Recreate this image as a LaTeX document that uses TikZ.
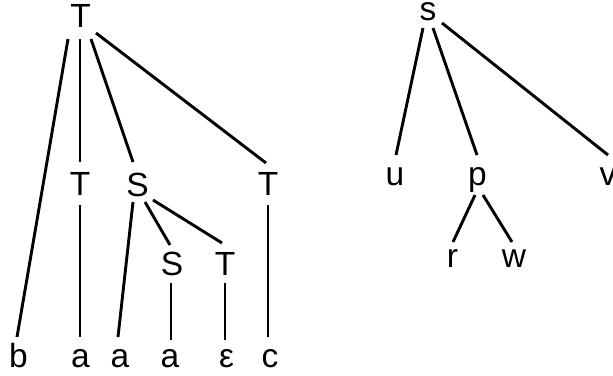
\documentclass[tikz,border=0pt]{standalone}
\usepackage{fontspec}
\setmainfont{Liberation Sans}
\usetikzlibrary{calc}
\begin{document}
\begin{tikzpicture}[x=1pt,y=-1pt,
  lab/.style={inner sep=0pt,anchor=base,font=\fontsize{33.5}{40}\selectfont},
  edge/.style={line width=2.9pt}]
\useasboundingbox (0,0) rectangle (613,375);
% left tree
\node[lab] (T0) at (80.5,27) {T};
\node[lab] (T1) at (80,195) {T};
\node[lab] (S1) at (137.5,196) {S};
\node[lab] (T2) at (268,195) {T};
\node[lab] (S2) at (172,275) {S};
\node[lab] (T3) at (225,275) {T};
\node[lab] (b) at (18.5,367) {b};
\node[lab] (a1) at (80.5,367) {a};
\node[lab] (a2) at (120,367) {a};
\node[lab] (a3) at (170,367) {a};
\node[lab] (eps) at (226.5,367) {ε};
\node[lab] (c) at (270,367) {c};
\draw[edge] ($(T0.base)+(-12.5,12)$) -- ($(b.base)+(-1.5,-30)$);
\draw[edge] ($(T0.base)+(-0.5,12)$) -- ($(T1.base)+(0,-33)$);
\draw[edge] ($(T0.base)+(10.5,12)$) -- ($(S1.base)+(-4.5,-34)$);
\draw[edge] ($(T0.base)+(15.5,6)$) -- ($(T2.base)+(-2,-32)$);
\draw[edge] ($(T1.base)+(0,10)$) -- ($(a1.base)+(-0.5,-30)$);
\draw[edge] ($(S1.base)+(-4.5,6)$) -- ($(a2.base)+(-2,-30)$);
\draw[edge] ($(S1.base)+(7.5,6)$) -- ($(S2.base)+(-2,-30)$);
\draw[edge] ($(S1.base)+(15.5,4)$) -- ($(T3.base)+(-3,-32)$);
\draw[edge] ($(S2.base)+(-1,8)$) -- ($(a3.base)+(1,-27)$);
\draw[edge] ($(T3.base)+(0,8)$) -- ($(eps.base)+(-1.5,-27)$);
\draw[edge] ($(T2.base)+(0,10)$) -- ($(c.base)+(-2,-30)$);
% right tree
\node[lab] (s) at (428,20) {s};
\node[lab] (u) at (395,185) {u};
\node[lab] (p) at (477.5,185) {p};
\node[lab] (v) at (608,185) {v};
\node[lab] (r) at (452.5,267) {r};
\node[lab] (w) at (514,267) {w};
\draw[edge] ($(s.base)+(-5,8)$) -- ($(u.base)+(1,-30)$);
\draw[edge] ($(s.base)+(5,8)$) -- ($(p.base)+(-0.5,-30)$);
\draw[edge] ($(s.base)+(14,3)$) -- ($(v.base)+(0,-30)$);
\draw[edge] ($(p.base)+(-2.5,10)$) -- ($(r.base)+(0.5,-25)$);
\draw[edge] ($(p.base)+(5.5,10)$) -- ($(w.base)+(-2,-25)$);
\end{tikzpicture}
\end{document}
